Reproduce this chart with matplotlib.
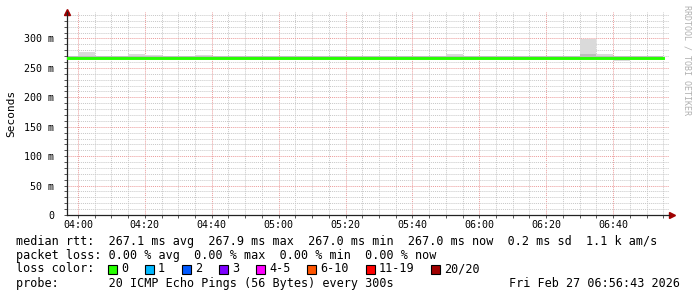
import matplotlib
matplotlib.use("Agg")
from matplotlib import pyplot as plt
from matplotlib.patches import Rectangle
import matplotlib.dates as mdates
import numpy as np
import pandas as pd

# 5 minute bins, 03:55 .. 06:50
bin_start = pd.date_range("2026-02-27 03:55", "2026-02-27 06:50", freq="5min")
t_from = pd.Timestamp("2026-02-27 03:56:43")
t_to = pd.Timestamp("2026-02-27 06:56:43")

median = [267.1, 267.2, 267.1, 267.0, 267.2, 267.1, 267.0, 267.1, 267.2, 267.1, 267.0, 267.1,
          267.1, 267.0, 267.1, 267.0, 267.1, 267.0, 267.1, 267.0, 267.1, 267.0, 267.1, 267.2,
          267.1, 267.0, 267.1, 267.0, 267.1, 267.0, 267.1, 267.3, 267.2, 267.0, 267.1, 267.0]
ping_hi = [270.5, 277.0, 270.5, 270.5, 273.5, 271.5, 270.5, 270.5, 272.5, 270.5, 270.5, 270.5,
           271.0, 270.5, 270.5, 270.5, 270.5, 270.5, 271.0, 270.5, 270.5, 270.5, 270.5, 273.0,
           271.0, 270.5, 270.5, 270.5, 270.5, 270.5, 270.5, 298.5, 274.0, 270.5, 270.5, 270.5]
ping_q3 = [270.0, 270.5, 270.0, 270.0, 270.5, 270.0, 270.0, 270.0, 270.0, 270.0, 270.0, 270.0,
           270.5, 270.0, 270.0, 270.0, 270.0, 270.0, 270.5, 270.0, 270.0, 270.0, 270.0, 270.0,
           270.5, 270.0, 270.0, 270.0, 270.0, 270.0, 270.0, 273.5, 270.5, 270.0, 270.0, 270.0]
ping_lo = [266.5, 266.5, 266.5, 266.5, 266.5, 266.5, 266.5, 266.5, 266.5, 266.5, 266.5, 266.5,
           266.5, 266.5, 266.5, 266.5, 266.5, 263.0, 266.5, 266.5, 266.5, 266.5, 266.5, 266.5,
           266.5, 264.5, 266.5, 266.5, 266.5, 264.5, 266.5, 266.5, 266.5, 262.5, 266.5, 266.5]

stats_line = "median rtt:  267.1 ms avg  267.9 ms max  267.0 ms min  267.0 ms now  0.2 ms sd  1.1 k am/s"
loss_line = "packet loss: 0.00 % avg  0.00 % max  0.00 % min  0.00 % now"
probe_line = "probe:       20 ICMP Echo Pings (56 Bytes) every 300s"
stamp = "Fri Feb 27 06:56:43 2026"
loss_labels = ["0", "1", "2", "3", "4-5", "6-10", "11-19", "20/20"]
loss_colors = ["#26ff00", "#00b8ff", "#0059ff", "#7e00ff", "#ff00ff", "#ff5500", "#ff0000", "#a00000"]

W, H = 697, 297
mono = "DejaVu Sans Mono"


def fx(px):
    return px / W


def fy(py):
    return 1 - py / H


def main():
    fig = plt.figure(figsize=(W / 100, H / 100), dpi=100)
    ax = fig.add_axes([fx(67), fy(215), fx(669) - fx(67), fy(12) - fy(215)])

    edges = list(bin_start) + [bin_start[-1] + pd.Timedelta("5min")]
    x = mdates.date2num(edges)

    def ext(v):
        return list(v) + [v[-1]]

    ax.fill_between(x, ext(ping_lo), ext(ping_hi), step="post", color="#dadada", lw=0, zorder=2)
    ax.fill_between(x, ext(median), ext(ping_q3), step="post", color="#bdbdbd", lw=0, zorder=2)
    ax.step(x, ext(median), where="post", color=loss_colors[0], lw=2.1, zorder=4)

    ax.set_xlim(mdates.date2num(t_from), mdates.date2num(t_to))
    ax.set_ylim(0, 345)

    # grid
    ax.xaxis.set_major_locator(mdates.MinuteLocator(byminute=[0, 20, 40]))
    ax.xaxis.set_minor_locator(mdates.MinuteLocator(byminute=list(range(0, 60, 5))))
    ax.xaxis.set_major_formatter(mdates.DateFormatter("%H:%M"))
    ax.set_yticks(np.arange(0, 301, 50))
    ax.set_yticks(np.arange(0, 341, 10), minor=True)
    ax.set_yticklabels(["0"] + ["%d m" % v for v in range(50, 301, 50)])
    ax.grid(which="minor", color="#c8c8c8", lw=0.7, ls=(0, (1, 1)), zorder=1)
    ax.grid(which="major", color="#eb9a9a", lw=0.7, ls=(0, (1, 1)), zorder=1)
    ax.set_axisbelow(True)

    ax.tick_params(which="both", labelsize=7.2, length=2, width=0.7, color="#555555")
    ax.tick_params(axis="y", pad=7)
    ax.tick_params(axis="x", pad=1.5)
    for lab in ax.get_xticklabels() + ax.get_yticklabels():
        lab.set_family(mono)

    for s in ["top", "right"]:
        ax.spines[s].set_visible(False)
    for s in ["left", "bottom"]:
        ax.spines[s].set_color("#222222")
        ax.spines[s].set_linewidth(0.9)
    ax.plot([0], [1.0], marker="^", color="#a00000", ms=4, transform=ax.transAxes, clip_on=False)
    ax.plot([1.005], [0], marker=">", color="#a00000", ms=4, transform=ax.transAxes, clip_on=False)

    ax.set_ylabel("Seconds", family=mono, fontsize=8, labelpad=6)
    fig.text(fx(687), fy(5), "RRDTOOL / TOBI OETIKER", rotation=270, family=mono,
             fontsize=6, color="#b0b0b0", ha="center", va="top")

    # legend text
    fs = 8.5
    fig.text(fx(16), fy(241), stats_line, family=mono, fontsize=fs, va="center")
    fig.text(fx(16), fy(255.5), loss_line, family=mono, fontsize=fs, va="center")
    fig.text(fx(16), fy(269), "loss color:", family=mono, fontsize=fs, va="center")
    fig.text(fx(16), fy(283.5), probe_line, family=mono, fontsize=fs, va="center")
    fig.text(fx(680), fy(283.5), stamp, family=mono, fontsize=fs, va="center", ha="right")

    bx = 108
    for lab, col in zip(loss_labels, loss_colors):
        fig.patches.append(Rectangle((fx(bx), fy(273.5)), fx(9), fy(264.5) - fy(273.5),
                                     transform=fig.transFigure, facecolor=col,
                                     edgecolor="black", lw=0.8))
        fig.text(fx(bx + 13), fy(269), lab, family=mono, fontsize=fs, va="center")
        bx += 30 + 7.05 * len(lab)

    fig.savefig("out.png", dpi=100)


if __name__ == '__main__':
    main()
